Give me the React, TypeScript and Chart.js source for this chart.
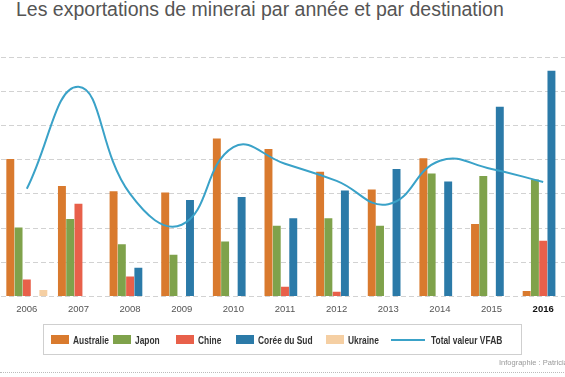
import React, { useEffect, useRef } from "react";
import { Chart, registerables } from "chart.js";

Chart.register(...registerables);

const years = ["2006", "2007", "2008", "2009", "2010", "2011", "2012", "2013", "2014", "2015", "2016"];
const australie = [4.02, 3.23, 3.08, 3.04, 4.62, 4.31, 3.65, 3.13, 4.04, 2.12, 0.16];
const japon = [2.02, 2.27, 1.53, 1.22, 1.61, 2.07, 2.29, 2.07, 3.6, 3.52, 3.42];
const chine = [0.5, 2.71, 0.59, null, null, 0.29, 0.14, null, null, null, 1.63];
const coree = [null, null, 0.84, 2.82, 2.91, 2.29, 3.1, 3.73, 3.36, 5.55, 6.6];
const ukraine = [0.19, null, null, null, null, null, null, null, null, null, null];
const totalVFAB = [3.15, 6.13, 3.0, 2.1, 4.37, 3.88, 3.38, 2.7, 3.97, 3.73, 3.35];

const COLORS = {
  australie: "#d97a2e",
  japon: "#7fa24b",
  chine: "#e8604a",
  coree: "#2b7aa8",
  ukraine: "#f5cfa3",
  total: "#3aa2c8",
};

const SANS = "'Liberation Sans', Arial, sans-serif";

// legend item horizontal placement (layout only)
const legendItems = [
  { label: "Australie", color: COLORS.australie, line: false, x: 51 },
  { label: "Japon", color: COLORS.japon, line: false, x: 113 },
  { label: "Chine", color: COLORS.chine, line: false, x: 176 },
  { label: "Corée du Sud", color: COLORS.coree, line: false, x: 236 },
  { label: "Ukraine", color: COLORS.ukraine, line: false, x: 326 },
  { label: "Total valeur VFAB", color: COLORS.total, line: true, x: 391 },
];

export default function App() {
  const ref = useRef<HTMLCanvasElement | null>(null);

  useEffect(() => {
    document.body.style.margin = "0";
    document.body.style.overflow = "hidden";
    const canvas = ref.current;
    if (!canvas) return;
    const barDs = (label: string, data: (number | null)[], color: string) => ({
      type: "bar" as const,
      label,
      data,
      backgroundColor: color,
      borderWidth: 0,
      categoryPercentage: 0.8,
      barPercentage: 0.96,
      order: 1,
    });
    const chart = new Chart(canvas, {
      type: "bar",
      data: {
        labels: years,
        datasets: [
          {
            type: "line" as const,
            label: "Total valeur VFAB",
            data: totalVFAB,
            borderColor: COLORS.total,
            borderWidth: 2,
            pointRadius: 0,
            tension: 0.45,
            fill: false,
            order: 0,
          } as any,
          barDs("Australie", australie, COLORS.australie),
          barDs("Japon", japon, COLORS.japon),
          barDs("Chine", chine, COLORS.chine),
          barDs("Corée du Sud", coree, COLORS.coree),
          barDs("Ukraine", ukraine, COLORS.ukraine),
        ],
      },
      options: {
        animation: false,
        responsive: false,
        maintainAspectRatio: false,
        layout: { padding: { left: 1, right: 1, top: 57, bottom: 4 } },
        plugins: {
          legend: { display: false },
          tooltip: { enabled: false },
          title: { display: false },
        },
        scales: {
          x: {
            grid: { display: false, drawTicks: false },
            border: { display: false },
            ticks: {
              padding: 7,
              color: (ctx: any) => (ctx.index === 10 ? "#111" : "#555"),
              font: (ctx: any) => ({
                family: SANS,
                size: 9.5,
                weight: ctx.index === 10 ? "bold" : "normal",
              }),
            },
          },
          y: {
            min: 0,
            max: 7,
            ticks: { display: false, stepSize: 1 },
            grid: { color: "#d2d2d2", lineWidth: 1, drawTicks: false },
            border: { display: false, dash: [5, 3] },
          },
        },
      },
    });
    return () => chart.destroy();
  }, []);

  return (
    <div style={{ position: "relative", width: 570, height: 377, background: "#fff", overflow: "hidden" }}>
      <div
        style={{
          position: "absolute",
          left: 16,
          top: -2,
          fontFamily: SANS,
          fontSize: 19.5,
          color: "#555",
          whiteSpace: "nowrap",
        }}
      >
        Les exportations de minerai par année et par destination
      </div>
      <canvas ref={ref} width={570} height={326} style={{ position: "absolute", left: 0, top: 0, width: 570, height: 326 }} />
      <div
        style={{
          position: "absolute",
          left: 43,
          top: 324,
          width: 477,
          height: 29,
          border: "1px solid #cfcfcf",
        }}
      />
      {legendItems.map((it, i) => (
        <div key={i} style={{ position: "absolute", left: it.x, top: 334, height: 11, display: "flex", alignItems: "center" }}>
          {it.line ? (
            <div style={{ width: 34, height: 2, background: it.color, marginRight: 6 }} />
          ) : (
            <div style={{ width: 18, height: 9, background: it.color, marginRight: 4 }} />
          )}
          <span
            style={{
              display: "inline-block",
              fontFamily: SANS,
              fontWeight: "bold",
              fontSize: 10.5,
              color: "#333",
              whiteSpace: "nowrap",
              transform: "scaleX(0.8)",
              transformOrigin: "left center",
            }}
          >
            {it.label}
          </span>
        </div>
      ))}
      <div
        style={{
          position: "absolute",
          left: 499,
          top: 358,
          fontFamily: SANS,
          fontSize: 7.5,
          color: "#999",
          whiteSpace: "nowrap",
        }}
      >
        Infographie : Patricia
      </div>
      <div
        style={{
          position: "absolute",
          left: 0,
          top: 372,
          width: 570,
          height: 0,
          borderTop: "1px dotted #bbb",
        }}
      />
    </div>
  );
}
